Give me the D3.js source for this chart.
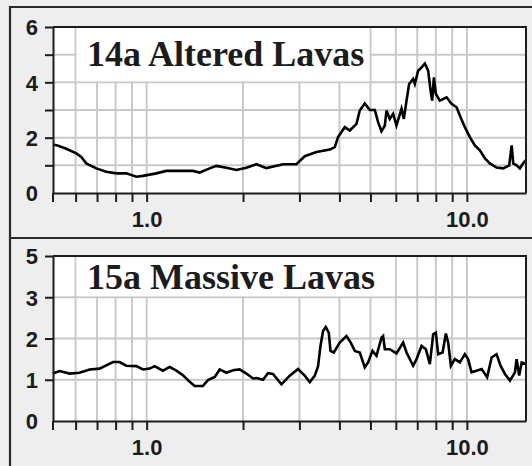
<!DOCTYPE html>
<html>
<head>
<meta charset="utf-8">
<script src="https://cdn.jsdelivr.net/npm/d3@7"></script>
<style>
  html, body { margin: 0; padding: 0; background: #eeeeee; }
  svg { display: block; }
</style>
</head>
<body>
<div id="chart"></div>
<script>
// x axis (log), shared by both panels
const xDomain = [0.51, 15.3];
const xTicks = [0.6, 0.7, 0.8, 0.9, 1, 2, 3, 4, 5, 6, 7, 8, 9, 10];
const xLabels = { 1: "1.0", 10: "10.0" };

// panel 14a
const alteredTitle = "14a Altered Lavas";
const alteredYTicks = [0, 1, 2, 3, 4, 5, 6];
const alteredYLabels = ["0", "", "2", "", "4", "", "6"];
const alteredLavas = [
  [0.51, 1.75], [0.527, 1.72], [0.561, 1.60], [0.603, 1.43], [0.625, 1.30],
  [0.648, 1.07], [0.696, 0.89], [0.748, 0.77], [0.804, 0.71], [0.864, 0.71],
  [0.929, 0.59], [0.974, 0.62], [1.072, 0.71], [1.152, 0.80], [1.395, 0.80],
  [1.464, 0.74], [1.574, 0.89], [1.651, 0.98], [1.774, 0.91], [1.907, 0.83],
  [2.049, 0.91], [2.202, 1.04], [2.366, 0.90], [2.667, 1.04], [2.937, 1.04],
  [3.117, 1.33], [3.391, 1.48], [3.732, 1.57], [3.868, 1.66], [3.961, 2.02],
  [4.157, 2.38], [4.309, 2.26], [4.522, 2.50], [4.630, 2.98], [4.800, 3.24],
  [4.976, 3.00], [5.158, 3.00], [5.282, 2.56], [5.413, 2.23], [5.544, 2.44],
  [5.612, 2.98], [5.745, 2.68], [5.884, 2.86], [6.029, 2.44], [6.251, 3.04],
  [6.356, 2.68], [6.481, 3.34], [6.603, 3.94], [6.796, 4.12], [6.879, 3.94],
  [7.045, 4.42], [7.220, 4.54], [7.394, 4.68], [7.571, 4.42], [7.703, 3.70],
  [7.792, 3.34], [7.888, 4.18], [8.001, 3.58], [8.235, 3.34], [8.643, 3.46],
  [8.959, 3.22], [9.287, 3.10], [9.509, 2.80], [9.858, 2.38], [10.22, 2.02],
  [10.59, 1.72], [10.98, 1.54], [11.39, 1.25], [11.80, 1.07], [12.38, 0.92],
  [12.98, 0.89], [13.56, 1.00], [13.80, 1.72], [13.96, 1.07], [14.30, 1.00],
  [14.64, 0.89], [14.99, 1.07], [15.29, 1.19]
];

// panel 15a
const massiveTitle = "15a Massive Lavas";
const massiveYTicks = [0, 1, 2, 3, 4];
const massiveYLabels = ["0", "1", "2", "3", "5"];
const massiveLavas = [
  [0.509, 1.15], [0.535, 1.21], [0.575, 1.15], [0.617, 1.17], [0.664, 1.25],
  [0.713, 1.27], [0.748, 1.35], [0.785, 1.43], [0.823, 1.43], [0.864, 1.34],
  [0.929, 1.33], [0.974, 1.25], [1.022, 1.27], [1.059, 1.33], [1.124, 1.22],
  [1.180, 1.31], [1.238, 1.22], [1.298, 1.11], [1.363, 0.95], [1.413, 0.85],
  [1.499, 0.85], [1.554, 0.99], [1.632, 1.07], [1.691, 1.25], [1.774, 1.17],
  [1.861, 1.23], [1.952, 1.25], [2.049, 1.15], [2.149, 1.03], [2.202, 1.04],
  [2.309, 1.00], [2.393, 1.16], [2.481, 1.14], [2.636, 0.89], [2.798, 1.10],
  [2.971, 1.26], [3.117, 1.10], [3.232, 0.94], [3.350, 1.10], [3.430, 1.32],
  [3.490, 1.82], [3.556, 2.18], [3.626, 2.28], [3.705, 2.14], [3.751, 1.70],
  [3.841, 1.66], [4.010, 1.90], [4.208, 2.06], [4.340, 1.90], [4.467, 1.70],
  [4.630, 1.66], [4.800, 1.30], [4.915, 1.42], [5.073, 1.70], [5.221, 1.58],
  [5.413, 2.02], [5.476, 2.06], [5.544, 1.74], [5.745, 1.74], [6.029, 1.64],
  [6.324, 1.90], [6.481, 1.66], [6.796, 1.34], [6.963, 1.50], [7.220, 1.82],
  [7.447, 1.74], [7.664, 1.38], [7.849, 2.10], [8.001, 2.14], [8.135, 1.62],
  [8.398, 1.66], [8.600, 2.12], [8.744, 1.90], [8.913, 1.34], [9.175, 1.50],
  [9.509, 1.42], [9.858, 1.62], [10.09, 1.50], [10.34, 1.18], [10.72, 1.22],
  [11.12, 1.26], [11.57, 1.06], [11.95, 1.54], [12.38, 1.62], [12.74, 1.34],
  [13.15, 1.14], [13.63, 0.98], [14.13, 1.18], [14.30, 1.50], [14.57, 1.10],
  [14.83, 1.42], [15.29, 1.38]
];

const W = 532, H = 466;
const ink = "#1c1c1c";

const svg = d3.select("#chart").append("svg")
    .attr("width", W)
    .attr("height", H);

svg.append("rect").attr("width", W).attr("height", H).attr("fill", "#eeeeee");

// outer frame: left + top + divider between the two panels
svg.append("path")
    .attr("d", `M${W},7 H10 V${H} M10,238 H${W}`)
    .attr("fill", "none")
    .attr("stroke", "#2a2a2a")
    .attr("stroke-width", 2.2);

const left = 53, right = 526;
const x = d3.scaleLog().domain(xDomain).range([left, right]);

function drawPanel(p) {
  const y = d3.scaleLinear()
      .domain([0, p.yTicks[p.yTicks.length - 1]])
      .range([p.bottom, p.top]);
  const g = svg.append("g");

  g.append("rect")
      .attr("x", left).attr("y", p.top)
      .attr("width", right - left).attr("height", p.bottom - p.top)
      .attr("fill", "#fff");

  // grid
  g.append("g").selectAll("line")
    .data(xTicks)
    .join("line")
      .attr("x1", d => x(d)).attr("x2", d => x(d))
      .attr("y1", p.top).attr("y2", p.bottom)
      .attr("stroke", "#c9c9c9").attr("stroke-width", 2);
  g.append("g").selectAll("line")
    .data(p.yTicks.slice(1, -1))
    .join("line")
      .attr("x1", left).attr("x2", right)
      .attr("y1", d => y(d)).attr("y2", d => y(d))
      .attr("stroke", "#c9c9c9").attr("stroke-width", 2);

  // white box behind the title
  g.append("rect")
      .attr("x", x(p.box[0]) + 1)
      .attr("y", p.top)
      .attr("width", x(p.box[1]) - x(p.box[0]) - 2)
      .attr("height", y(p.box[2]) - p.top - 1)
      .attr("fill", "#fff");

  g.append("text")
      .attr("x", 87).attr("y", p.titleY)
      .attr("font-family", "'Liberation Serif', 'Times New Roman', serif")
      .attr("font-weight", "bold")
      .attr("font-size", 36)
      .attr("fill", ink)
      .text(p.title);

  const line = d3.line()
      .x(d => x(d[0]))
      .y(d => y(d[1]));

  g.append("path")
      .datum(p.data)
      .attr("d", line)
      .attr("fill", "none")
      .attr("stroke", "#000")
      .attr("stroke-width", 2.6)
      .attr("stroke-linejoin", "miter");

  // top and right frame of the plot
  g.append("path")
      .attr("d", `M${left},${p.top} H${right} V${p.bottom}`)
      .attr("fill", "none")
      .attr("stroke", ink)
      .attr("stroke-width", 2);

  const xAxis = g.append("g")
      .attr("transform", `translate(0,${p.bottom})`)
      .call(d3.axisBottom(x)
        .tickValues(xTicks)
        .tickFormat(d => xLabels[d] || "")
        .tickSize(9)
        .tickSizeOuter(0)
        .tickPadding(9));

  const yAxis = g.append("g")
      .attr("transform", `translate(${left},0)`)
      .call(d3.axisLeft(y)
        .tickValues(p.yTicks)
        .tickFormat((d, i) => p.yLabels[i])
        .tickSize(8)
        .tickSizeOuter(0)
        .tickPadding(7));
  yAxis.selectAll(".tick").filter(d => d === 0).select("line").attr("x2", 0);

  // left axis runs down past the baseline
  g.append("line")
      .attr("x1", left).attr("x2", left)
      .attr("y1", p.bottom).attr("y2", p.bottom + 9)
      .attr("stroke", ink).attr("stroke-width", 2);

  [xAxis, yAxis].forEach(a => {
    a.selectAll("path, line").attr("stroke", ink).attr("stroke-width", 2);
    a.selectAll("text")
        .attr("fill", ink)
        .attr("font-family", "'Liberation Sans', Arial, sans-serif")
        .attr("font-weight", "bold")
        .attr("font-size", 22);
  });
  yAxis.selectAll("text").attr("dy", "0.36em");
}

drawPanel({
  top: 27, bottom: 193,
  yTicks: alteredYTicks, yLabels: alteredYLabels,
  data: alteredLavas, title: alteredTitle, titleY: 66,
  box: [0.6, 5, 4]
});

drawPanel({
  top: 256, bottom: 421,
  yTicks: massiveYTicks, yLabels: massiveYLabels,
  data: massiveLavas, title: massiveTitle, titleY: 289,
  box: [0.6, 6, 3]
});
</script>
</body>
</html>
